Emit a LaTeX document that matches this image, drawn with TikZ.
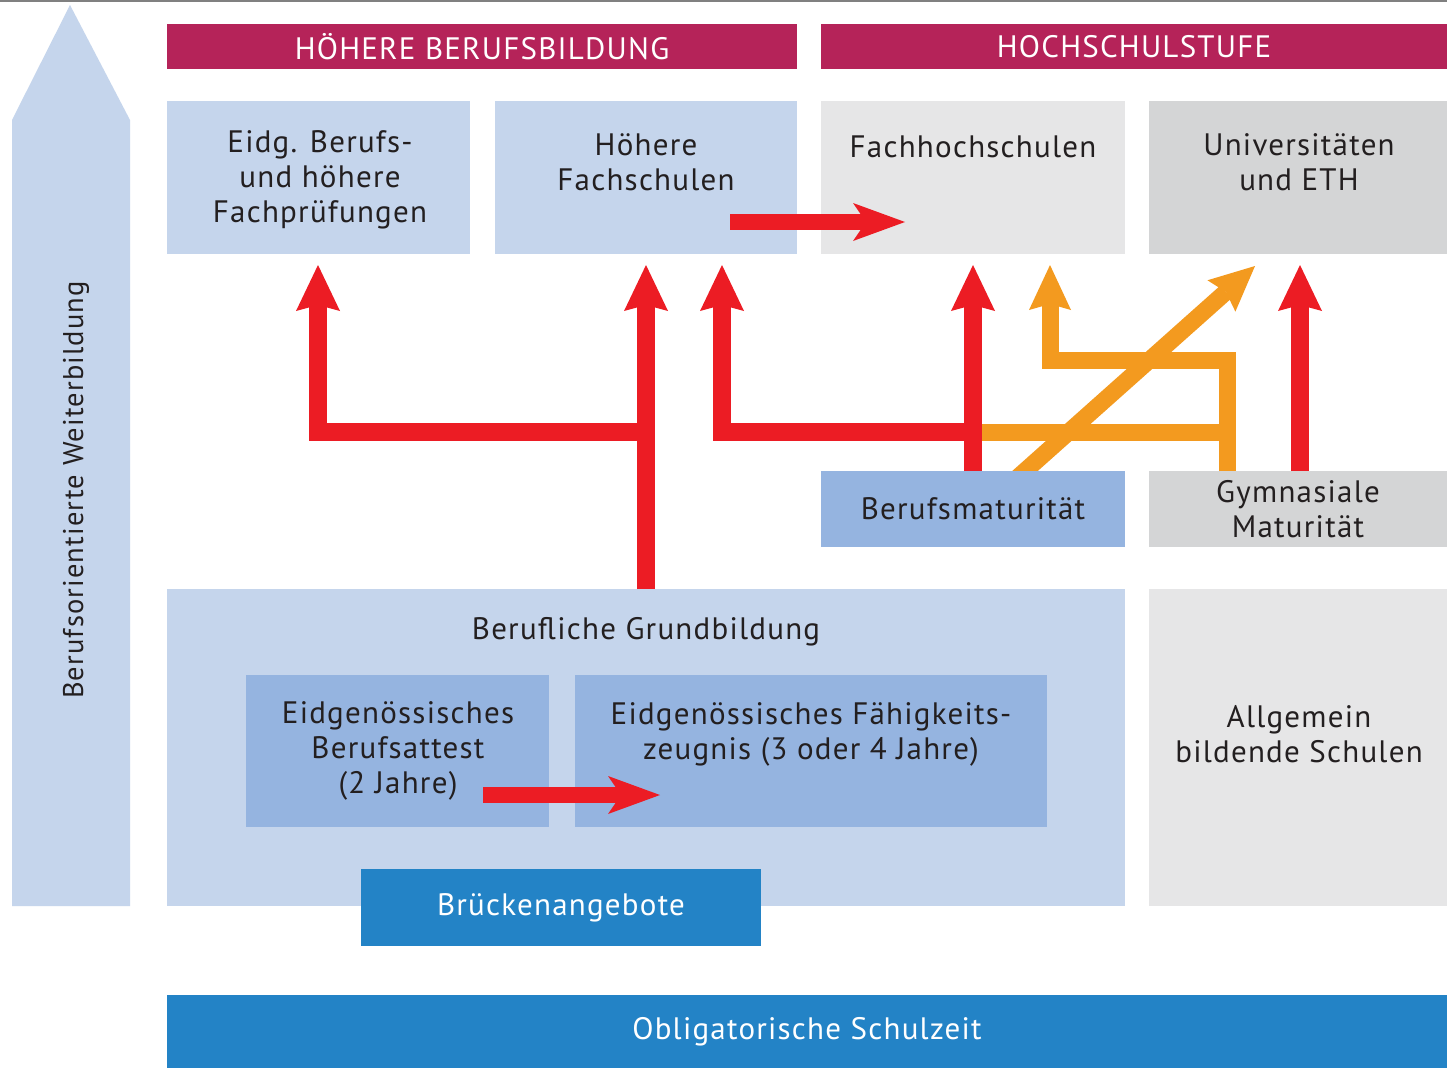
\documentclass[tikz,border=0pt]{standalone}
\usepackage{fontspec}
\setmainfont{PT Sans}
\newfontfamily\dfont[LetterSpace=4]{PT Sans}
\usetikzlibrary{arrows.meta}
\definecolor{lblue}{HTML}{C5D5EC}
\definecolor{mblue}{HTML}{95B4E0}
\definecolor{dblue}{HTML}{2383C6}
\definecolor{magent}{HTML}{B52359}
\definecolor{lgray}{HTML}{E6E6E7}
\definecolor{mgray}{HTML}{D4D5D6}
\definecolor{ared}{HTML}{EC1C24}
\definecolor{aorange}{HTML}{F39A1F}
\definecolor{txt}{HTML}{231F20}
\pgfdeclarelayer{bg}
\pgfsetlayers{bg,main}
\begin{document}
\begin{tikzpicture}[x=1pt,y=-1pt,
  box/.style={draw=none,inner sep=0pt,outer sep=0pt,anchor=north west},
  lbl/.style={inner sep=0pt,align=center,text=txt,font=\dfont\fontsize{31}{35}\selectfont},
  wlbl/.style={inner sep=0pt,align=center,text=white,font=\dfont\fontsize{31}{35}\selectfont},
  redup/.style={draw=ared,line width=18pt,line cap=butt,line join=miter,
    -{Stealth[length=46pt,width=44pt,inset=6pt,line width=0pt]}},
  redline/.style={draw=ared,line width=18pt,line cap=butt,line join=miter},
  orup/.style={draw=aorange,line width=17pt,line cap=butt,line join=miter,
    -{Stealth[length=45pt,width=42pt,inset=6pt,line width=0pt]}},
  orline/.style={draw=aorange,line width=17pt,line cap=butt,line join=miter},
  redright/.style={draw=ared,line width=16pt,line cap=butt,
    -{Stealth[length=52pt,width=38pt,inset=13pt,line width=0pt]}}
]
\useasboundingbox (0,0) rectangle (1447,1068);
\begin{pgfonlayer}{bg}
\fill[white] (0,0) rectangle (1447,1068);
\end{pgfonlayer}
\draw[color=gray,line width=2pt] (0,1) -- (1447,1);

% big side arrow
\fill[lblue] (12,906) -- (12,120) -- (70,5) -- (130,120) -- (130,906) -- cycle;
\node[lbl,font=\dfont\fontsize{28.5}{35}\selectfont,rotate=90] (side) at (76,490) {Berufsorientierte Weiterbildung};

% banners
\node[box,fill=magent,minimum width=630,minimum height=45] (hb) at (167,24) {};
\node[wlbl] (hbt) at (hb.center) {HÖHERE BERUFSBILDUNG};
\node[box,fill=magent,minimum width=626,minimum height=45] (hs) at (821,24) {};
\node[wlbl] (hst) at (hs.center) {HOCHSCHULSTUFE};

% top row
\node[box,fill=lblue,minimum width=303,minimum height=153] (eidg) at (167,101) {};
\node[lbl] (eidgt) at (320,180) {Eidg. Berufs-\\und höhere\\Fachprüfungen};
\node[box,fill=lblue,minimum width=302,minimum height=153] (hf) at (495,101) {};
\node[lbl] (hft) at (646,162) {Höhere\\Fachschulen};
\node[box,fill=lgray,minimum width=304,minimum height=153] (fh) at (821,101) {};
\node[lbl] (fht) at (973,147) {Fachhochschulen};
\node[box,fill=mgray,minimum width=298,minimum height=153] (uni) at (1149,101) {};
\node[lbl] (unit) at (1299,162) {Universitäten\\und ETH};

% maturity row
\node[box,fill=mblue,minimum width=304,minimum height=76] (bm) at (821,471) {};
\node[lbl] (bmt) at (bm.center) {Berufsmaturität};
\node[box,fill=mgray,minimum width=298,minimum height=76] (gm) at (1149,471) {};
\node[lbl] (gmt) at (gm.center) {Gymnasiale\\Maturität};

% lower
\node[box,fill=lblue,minimum width=958,minimum height=317] (bg) at (167,589) {};
\node[lbl] (bgt) at (646,632) {Berufliche Grundbildung};
\node[box,fill=mblue,minimum width=303,minimum height=152] (eba) at (246,675) {};
\node[lbl] (ebat) at (398,751) {Eidgenössisches\\Berufsattest\\(2 Jahre)};
\node[box,fill=mblue,minimum width=472,minimum height=152] (efz) at (575,675) {};
\node[lbl] (efzt) at (811,734) {Eidgenössisches Fähigkeits-\\zeugnis (3 oder 4 Jahre)};
\node[box,fill=lgray,minimum width=298,minimum height=317] (abs) at (1149,589) {};
\node[lbl] (abst) at (1299,734) {Allgemein\\bildende Schulen};
\node[box,fill=dblue,minimum width=400,minimum height=77] (bru) at (361,869) {};
\node[wlbl] (brut) at (bru.center) {Brückenangebote};
\node[box,fill=dblue,minimum width=1280,minimum height=73] (obl) at (167,995) {};
\node[wlbl] (oblt) at (obl.center) {Obligatorische Schulzeit};

% connector coordinates
\coordinate (tipE) at (318,265);
\coordinate (tipHa) at (646,265);
\coordinate (tipHb) at (722,265);
\coordinate (tipF) at (973,265);
\coordinate (tipFo) at (1050,265);
\coordinate (tipU) at (1255,266);
\coordinate (tipUr) at (1300,265);
\coordinate (jL) at (646,432);
\coordinate (jR) at (973,432);
\coordinate (diagS) at (1016,479);
\coordinate (hfS) at (730,222);
\coordinate (fhT) at (905,222);
\coordinate (ebaS) at (483,795);
\coordinate (efzT) at (660,795);

% red connectors
\draw[redup] (bg.north -| tipHa) -- (tipHa);
\draw[redup] (jL) -- (318,432) -- (tipE);
\draw[redup] (bm.north -| tipF) -- (tipF);
\draw[redup] (jR) -- (722,432) -- (tipHb);
\draw[redup] (gm.north -| tipUr) -- (tipUr);

% orange connectors
\draw[orup] (gm.north -| 1227,0) -- (1227,360) -- (1050,360) -- (tipFo);
\draw[orline] (1227,432) -- (982,432);
\begin{pgfonlayer}{bg}
\draw[orup] (diagS) -- (tipU);
\end{pgfonlayer}

% horizontal red arrows
\draw[redright] (hfS) -- (fhT);
\draw[redright] (ebaS) -- (efzT);
\end{tikzpicture}
\end{document}
